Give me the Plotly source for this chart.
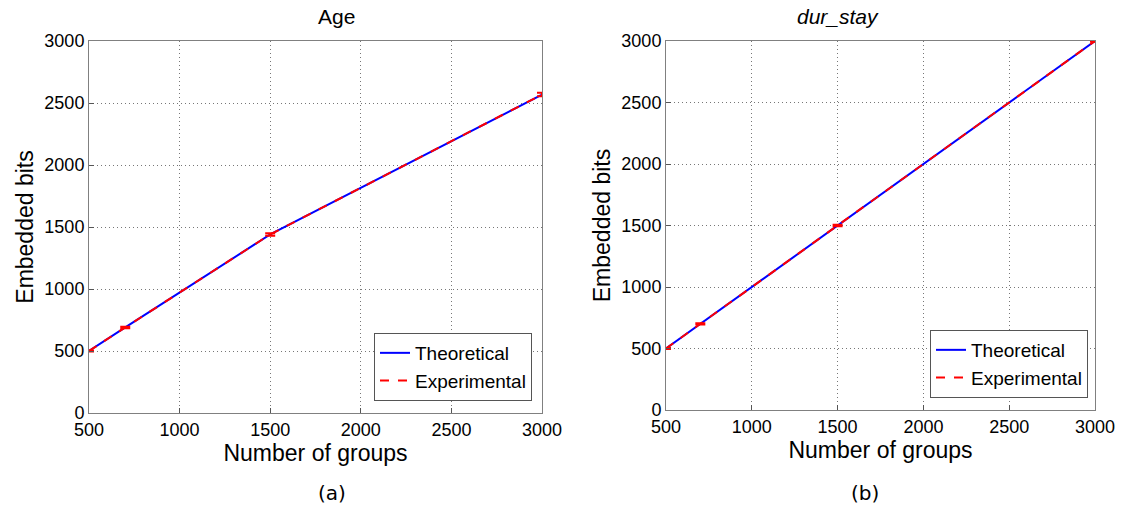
import plotly.graph_objects as go

groups = [500, 700, 1500, 3000]
age_theoretical = [500, 690, 1440, 2568]
age_experimental = [500, 690, 1440, 2568]
age_err = [4, 6, 10, 14]
dur_theoretical = [500, 700, 1500, 3000]
dur_experimental = [500, 700, 1500, 3000]
dur_err = [4, 5, 6, 6]

x_ticks = [500, 1000, 1500, 2000, 2500, 3000]
y_ticks = [0, 500, 1000, 1500, 2000, 2500, 3000]

FONT = "Liberation Sans, Arial, Helvetica, sans-serif"
BLUE = "#0000ff"
RED = "#ff0000"

fig = go.Figure()

for xa, ya, theo, exp, err, leg in [
    ("x", "y", age_theoretical, age_experimental, age_err, "legend"),
    ("x2", "y2", dur_theoretical, dur_experimental, dur_err, "legend2"),
]:
    fig.add_trace(go.Scatter(
        x=groups, y=theo, mode="lines", name="Theoretical",
        line=dict(color=BLUE, width=2), xaxis=xa, yaxis=ya, legend=leg))
    fig.add_trace(go.Scatter(
        x=groups, y=exp, mode="lines", name="Experimental",
        line=dict(color=RED, width=2, dash="dash"),
        error_y=dict(type="data", array=err, visible=True, color=RED,
                     thickness=2, width=5),
        xaxis=xa, yaxis=ya, legend=leg))

axis_common = dict(
    showline=True, mirror=True, linecolor="#808080", linewidth=1,
    ticks="inside", ticklen=5, tickcolor="#555555",
    showgrid=True, gridcolor="#777777", griddash="1px,3px", gridwidth=1,
    zeroline=False, tickfont=dict(family=FONT, size=18, color="black"),
    automargin=False,
)

fig.update_layout(
    width=1122, height=514,
    margin=dict(l=0, r=0, t=0, b=0, autoexpand=False),
    paper_bgcolor="white", plot_bgcolor="white",
    font=dict(family=FONT, color="black"),
    xaxis=dict(domain=[89/1122, 542/1122], range=[500, 3000], tickvals=x_ticks,
               anchor="y", title=dict(text="Number of groups", font=dict(size=23), standoff=2),
               **axis_common),
    yaxis=dict(domain=[1-413/514, 1-41/514], range=[0, 3000], tickvals=y_ticks,
               anchor="x", title=dict(text="Embedded bits", font=dict(size=23), standoff=4),
               **axis_common),
    xaxis2=dict(domain=[666/1122, 1095/1122], range=[500, 3000], tickvals=x_ticks,
                anchor="y2", title=dict(text="Number of groups", font=dict(size=23), standoff=2),
                **axis_common),
    yaxis2=dict(domain=[1-410/514, 1-41/514], range=[0, 3000], tickvals=y_ticks,
                anchor="x2", title=dict(text="Embedded bits", font=dict(size=23), standoff=4),
                **axis_common),
    legend=dict(x=532/1122, y=1-401/514, xanchor="right", yanchor="bottom",
                bgcolor="white", bordercolor="#555555", borderwidth=1,
                font=dict(family=FONT, size=19), tracegroupgap=0, itemwidth=30),
    legend2=dict(x=1088/1122, y=1-398/514, xanchor="right", yanchor="bottom",
                 bgcolor="white", bordercolor="#555555", borderwidth=1,
                 font=dict(family=FONT, size=19), tracegroupgap=0, itemwidth=30),
    showlegend=True,
    annotations=[
        dict(text="Age", x=(89+542)/2/1122, y=1-16/514, xref="paper", yref="paper",
             yanchor="middle", showarrow=False, font=dict(family=FONT, size=21)),
        dict(text="<i>dur_stay</i>", x=(666+1095)/2/1122, y=1-16/514, xref="paper", yref="paper",
             yanchor="middle", showarrow=False, font=dict(family=FONT, size=21)),
        dict(text="(a)", x=(89+542)/2/1122, y=1-493/514, xref="paper", yref="paper",
             yanchor="middle", showarrow=False, font=dict(family="DejaVu Sans", size=20)),
        dict(text="(b)", x=(666+1095)/2/1122, y=1-493/514, xref="paper", yref="paper",
             yanchor="middle", showarrow=False, font=dict(family="DejaVu Sans", size=20)),
    ],
)

fig.write_html(
    "out.html",
    config={"displayModeBar": False},
    post_script="document.body.style.margin='0';document.body.style.padding='0';document.body.style.overflow='hidden';",
)
